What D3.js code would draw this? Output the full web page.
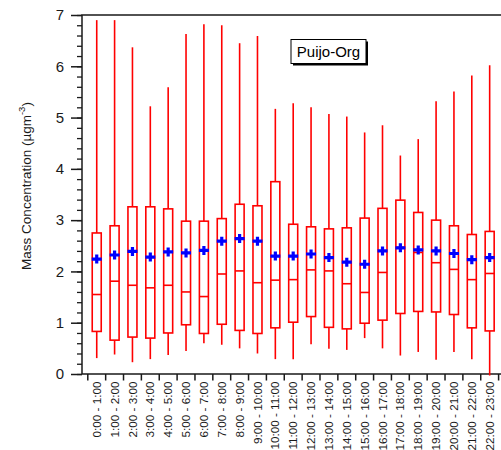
<!DOCTYPE html>
<html>
<head>
<meta charset="utf-8">
<script src="https://cdn.jsdelivr.net/npm/d3@7"></script>
<style>
  html, body { margin: 0; padding: 0; background: #fff; }
  svg { display: block; font-family: "Liberation Sans", Arial, Helvetica, sans-serif; }
</style>
</head>
<body>
<svg id="chart" width="501" height="450"></svg>
<script>
// Hourly box statistics of organic mass concentration (µg m^-3)
const categories = [
  "0:00 - 1:00", "1:00 - 2:00", "2:00 - 3:00", "3:00 - 4:00", "4:00 - 5:00",
  "5:00 - 6:00", "6:00 - 7:00", "7:00 - 8:00", "8:00 - 9:00", "9:00 - 10:00",
  "10:00 - 11:00", "11:00 - 12:00", "12:00 - 13:00", "13:00 - 14:00", "14:00 - 15:00",
  "15:00 - 16:00", "16:00 - 17:00", "17:00 - 18:00", "18:00 - 19:00", "19:00 - 20:00",
  "20:00 - 21:00", "21:00 - 22:00", "22:00 - 23:00"
];
const maxVals    = [6.90, 6.90, 6.37, 5.22, 5.59, 6.63, 6.82, 6.80, 6.45, 6.59, 5.17, 5.28, 5.20, 5.07, 5.02, 4.71, 4.85, 4.26, 4.58, 5.32, 5.51, 5.82, 6.02];
const q3Vals     = [2.75, 2.89, 3.26, 3.26, 3.22, 2.98, 2.98, 3.03, 3.31, 3.28, 3.75, 2.92, 2.87, 2.83, 2.85, 3.04, 3.23, 3.39, 3.15, 3.00, 2.89, 2.72, 2.78];
const medianVals = [1.55, 1.81, 1.73, 1.68, 1.73, 1.60, 1.51, 1.95, 2.01, 1.78, 1.83, 1.84, 2.03, 2.01, 1.76, 1.59, 1.98, 2.47, 2.37, 2.17, 2.04, 1.84, 1.96];
const q1Vals     = [0.83, 0.66, 0.72, 0.70, 0.80, 0.96, 0.79, 0.97, 0.85, 0.79, 0.90, 1.01, 1.12, 0.91, 0.88, 0.99, 1.05, 1.18, 1.22, 1.21, 1.16, 0.90, 0.84];
const minVals    = [0.31, 0.38, 0.23, 0.29, 0.37, 0.45, 0.60, 0.57, 0.50, 0.40, 0.29, 0.29, 0.58, 0.49, 0.47, 0.70, 0.50, 0.36, 0.43, 0.28, 0.43, 0.29, -0.03];
const meanVals   = [2.24, 2.32, 2.39, 2.28, 2.38, 2.36, 2.41, 2.59, 2.64, 2.59, 2.30, 2.30, 2.34, 2.27, 2.18, 2.14, 2.40, 2.46, 2.42, 2.40, 2.35, 2.23, 2.27];
const yMajorTicks = [0, 1, 2, 3, 4, 5, 6, 7];
const legendLabel = "Puijo-Org";

const rows = categories.map((c, i) => ({
  cat: c, max: maxVals[i], q3: q3Vals[i], med: medianVals[i],
  q1: q1Vals[i], min: minVals[i], mean: meanVals[i]
}));

const svg = d3.select("#chart");
const plot = { left: 82, right: 506, top: 15, bottom: 374 };

const x = d3.scaleBand().domain(categories).range([87.8, 498.6]).padding(0);
const y = d3.scaleLinear().domain([0, 7]).range([plot.bottom, plot.top]);

const RED = "#ff0000", BLUE = "#0000ff", INK = "#1a1a1a";

// frame: left axis, top edge, bottom axis
svg.append("path")
  .attr("d", `M${plot.right},${plot.top}H${plot.left}V${plot.bottom}H${plot.right}`)
  .attr("fill", "none").attr("stroke", INK).attr("stroke-width", 1.5);

// minor y ticks (0.2 steps)
const minorTicks = d3.range(0, 7.0001, 0.2).map(v => +v.toFixed(1));
const yMinor = svg.append("g").attr("transform", `translate(${plot.left},0)`)
  .call(d3.axisLeft(y).tickValues(minorTicks).tickSize(5).tickFormat(""));
yMinor.select(".domain").remove();
yMinor.selectAll("line").attr("stroke", INK).attr("stroke-width", 1.3);

// major y ticks with labels
const yMajor = svg.append("g").attr("transform", `translate(${plot.left},0)`)
  .call(d3.axisLeft(y).tickValues(yMajorTicks).tickSize(11).tickPadding(7).tickFormat(d3.format("d")));
yMajor.select(".domain").remove();
yMajor.selectAll("line").attr("stroke", INK).attr("stroke-width", 1.5);
yMajor.selectAll("text").attr("font-size", 15).attr("fill", INK)
  .attr("font-family", "'Liberation Sans', Arial, sans-serif");

// x ticks at category boundaries
const bounds = categories.map(c => x(c)).concat([x.range()[1]]);
svg.append("g").selectAll("line").data(bounds).join("line")
  .attr("x1", d => d).attr("x2", d => d)
  .attr("y1", plot.bottom).attr("y2", plot.bottom + 6.5)
  .attr("stroke", INK).attr("stroke-width", 1.5);

// rotated category labels
svg.append("g").selectAll("text").data(categories).join("text")
  .attr("transform", d => `translate(${x(d) + x.bandwidth() / 2},${plot.bottom + 7.5}) rotate(-90)`)
  .attr("text-anchor", "end").attr("dy", "0.35em")
  .attr("font-size", 11.7).attr("fill", INK)
  .text(d => d);

// y axis title
const yTitle = svg.append("text")
  .attr("transform", `translate(31,${(107 + 265) / 2}) rotate(-90)`)
  .attr("text-anchor", "middle").attr("font-size", 13.5).attr("fill", INK);
yTitle.append("tspan").text("Mass Concentration (µgm");
yTitle.append("tspan").attr("font-size", 9.5).attr("dy", "-0.6em").text("-3");
yTitle.append("tspan").attr("dy", "0.45em").text(")");

// boxes and whiskers
const bw = 9;
const g = svg.append("g");
const boxes = g.selectAll("g.box").data(rows).join("g").attr("class", "box")
  .attr("transform", d => `translate(${x(d.cat) + x.bandwidth() / 2},0)`);

boxes.append("line").attr("x1", 0).attr("x2", 0)
  .attr("y1", d => y(d.max)).attr("y2", d => y(d.q3))
  .attr("stroke", RED).attr("stroke-width", 1.6);
boxes.append("line").attr("x1", 0).attr("x2", 0)
  .attr("y1", d => y(d.q1)).attr("y2", d => y(d.min))
  .attr("stroke", RED).attr("stroke-width", 1.6);
boxes.append("rect")
  .attr("x", -bw / 2).attr("width", bw)
  .attr("y", d => y(d.q3)).attr("height", d => y(d.q1) - y(d.q3))
  .attr("fill", "#fff").attr("stroke", RED).attr("stroke-width", 1.6);
boxes.append("line").attr("x1", -bw / 2).attr("x2", bw / 2)
  .attr("y1", d => y(d.med)).attr("y2", d => y(d.med))
  .attr("stroke", RED).attr("stroke-width", 1.6);

// mean markers
const arm = 5;
boxes.append("path")
  .attr("d", d => `M${-arm},${y(d.mean)}H${arm}M0,${y(d.mean) - arm + 0.5}V${y(d.mean) + arm - 0.5}`)
  .attr("stroke", BLUE).attr("stroke-width", 3.2).attr("fill", "none");

// legend tag with drop shadow
const lg = svg.append("g").attr("transform", "translate(291,39.5)");
lg.append("rect").attr("x", 2).attr("y", 2).attr("width", 75).attr("height", 24).attr("fill", "#000");
lg.append("rect").attr("x", 0).attr("y", 0).attr("width", 75).attr("height", 24)
  .attr("fill", "#fff").attr("stroke", "#000").attr("stroke-width", 1);
lg.append("text").attr("x", 37.5).attr("y", 17.3).attr("text-anchor", "middle")
  .attr("font-size", 15).attr("fill", "#000").text(legendLabel);
</script>
</body>
</html>
